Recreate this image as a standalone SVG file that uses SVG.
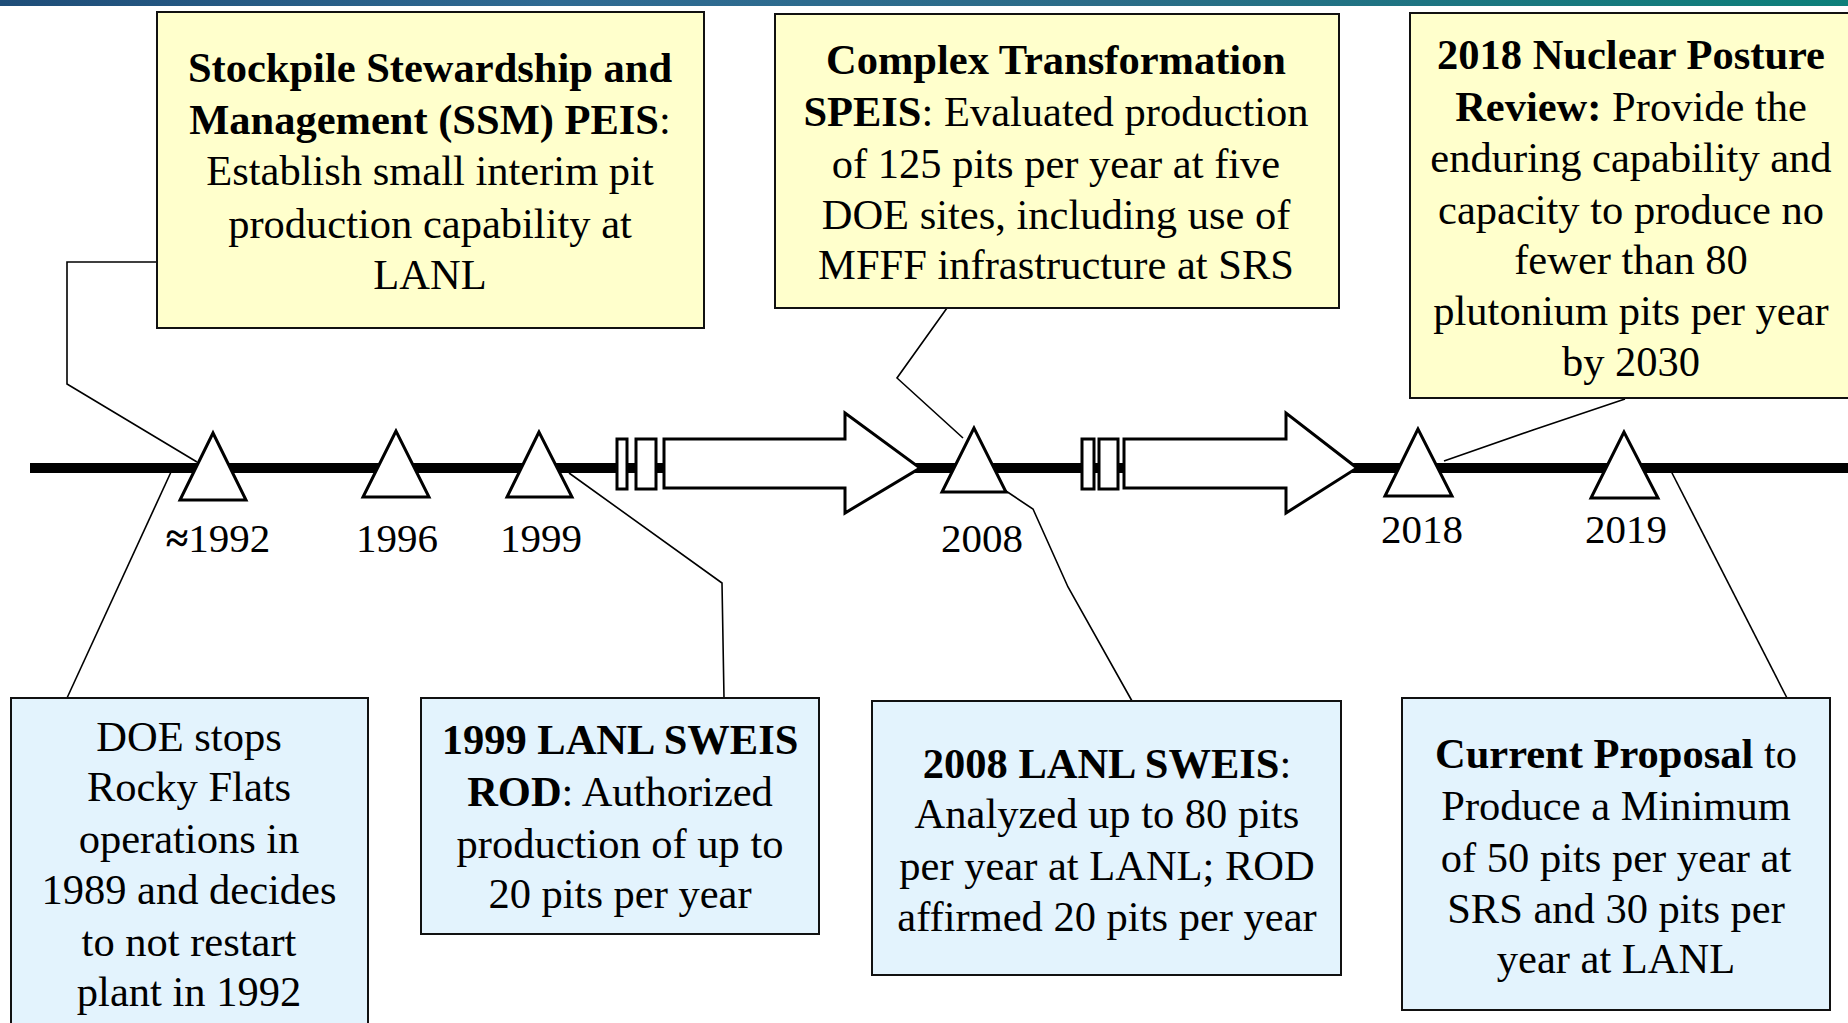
<svg xmlns="http://www.w3.org/2000/svg" width="1848" height="1023" viewBox="0 0 1848 1023">
<defs>
<linearGradient id="band" x1="0" y1="0" x2="1" y2="0">
<stop offset="0" stop-color="#1E4D78"/>
<stop offset="0.3" stop-color="#2F6A93"/>
<stop offset="0.6" stop-color="#2B6C88"/>
<stop offset="1" stop-color="#0C7F7A"/>
</linearGradient>
</defs>
<style>
text{font-family:"Liberation Serif","Times New Roman",serif;fill:#000;text-anchor:middle}
.t{font-size:42.5px}
.y{font-size:41px}
.b{font-weight:bold}
.yel{fill:#FFFFCC;stroke:#111;stroke-width:2}
.blu{fill:#E3F3FD;stroke:#111;stroke-width:2}
.sh{fill:#9a9a9a}
.con{fill:none;stroke:#000;stroke-width:1.6}
.tri{fill:#fff;stroke:#000;stroke-width:3;stroke-linejoin:miter}
.brk{fill:#fff;stroke:#000;stroke-width:3}
</style>
<rect x="0" y="0" width="1848" height="6" fill="url(#band)"/>

<g id="timeline">
<rect x="30" y="463" width="1818" height="10" fill="#000"/>
</g>

<g id="connectors">
<polyline class="con" points="157,262 67,262 67,384 197,462"/>
<polyline class="con" points="171,472 67,698"/>
<polyline class="con" points="569,473 722,583 724,698"/>
<polyline class="con" points="947,308 897,378 963,438"/>
<polyline class="con" points="1003,489 1033,509 1068,587 1132,701"/>
<polyline class="con" points="1444,461 1533,430 1625,399"/>
<polyline class="con" points="1671,471 1787,698"/>
</g>

<g id="break1">
<rect class="brk" x="617" y="439" width="10" height="50"/>
<rect class="brk" x="636" y="439" width="20" height="50"/>
<path class="brk" d="M664,439 H845 V413 L920,468 L845,513 V488 H664 Z"/>
</g>
<g id="break2">
<rect class="brk" x="1082" y="439" width="12" height="50"/>
<rect class="brk" x="1099" y="439" width="19" height="50"/>
<path class="brk" d="M1124,439 H1286 V413 L1357,468 L1286,513 V488 H1124 Z"/>
</g>

<g id="m1992"><polygon class="tri" points="213,433 180,500 246,500"/><text class="y" x="218" y="552"><tspan class="b">≈</tspan>1992</text></g>
<g id="m1996"><polygon class="tri" points="396,431 363,497 429,497"/><text class="y" x="397" y="552">1996</text></g>
<g id="m1999"><polygon class="tri" points="539,432 507,497 572,497"/><text class="y" x="541" y="552">1999</text></g>
<g id="m2008"><polygon class="tri" points="974,428 942,492 1006,492"/><text class="y" x="982" y="552">2008</text></g>
<g id="m2018"><polygon class="tri" points="1418,429 1385,496 1452,496"/><text class="y" x="1422" y="543">2018</text></g>
<g id="m2019"><polygon class="tri" points="1624,432 1591,498 1658,498"/><text class="y" x="1626" y="543">2019</text></g>

<g id="ssm">
<rect class="yel" x="157" y="12" width="547" height="316"/>
<text class="t" x="430" y="82"><tspan class="b">Stockpile Stewardship and</tspan></text>
<text class="t" x="430" y="134"><tspan class="b">Management (SSM) PEIS</tspan>:</text>
<text class="t" x="430" y="185">Establish small interim pit</text>
<text class="t" x="430" y="238">production capability at</text>
<text class="t" x="430" y="289">LANL</text>
</g>

<g id="speis">
<rect class="yel" x="775" y="14" width="564" height="294"/>
<text class="t" x="1056" y="74"><tspan class="b">Complex Transformation</tspan></text>
<text class="t" x="1056" y="126"><tspan class="b">SPEIS</tspan>: Evaluated production</text>
<text class="t" x="1056" y="178">of 125 pits per year at five</text>
<text class="t" x="1056" y="229">DOE sites, including use of</text>
<text class="t" x="1056" y="279">MFFF infrastructure at SRS</text>
</g>

<g id="npr">
<rect class="yel" x="1410" y="13" width="445" height="385"/>
<text class="t" x="1631" y="69"><tspan class="b">2018 Nuclear Posture</tspan></text>
<text class="t" x="1631" y="121"><tspan class="b">Review:</tspan> Provide the</text>
<text class="t" x="1631" y="172">enduring capability and</text>
<text class="t" x="1631" y="224">capacity to produce no</text>
<text class="t" x="1631" y="274">fewer than 80</text>
<text class="t" x="1631" y="325">plutonium pits per year</text>
<text class="t" x="1631" y="376">by 2030</text>
</g>

<g id="doe">
<rect class="blu" x="11" y="698" width="357" height="340"/>
<text class="t" x="189" y="751">DOE stops</text>
<text class="t" x="189" y="801">Rocky Flats</text>
<text class="t" x="189" y="853">operations in</text>
<text class="t" x="189" y="904">1989 and decides</text>
<text class="t" x="189" y="956">to not restart</text>
<text class="t" x="189" y="1006">plant in 1992</text>
</g>

<g id="rod1999">
<rect class="blu" x="421" y="698" width="398" height="236"/>
<text class="t" x="620" y="754"><tspan class="b">1999 LANL SWEIS</tspan></text>
<text class="t" x="620" y="806"><tspan class="b">ROD</tspan>: Authorized</text>
<text class="t" x="620" y="858">production of up to</text>
<text class="t" x="620" y="908">20 pits per year</text>
</g>

<g id="sweis2008">
<rect class="blu" x="872" y="701" width="469" height="274"/>
<text class="t" x="1107" y="778"><tspan class="b">2008 LANL SWEIS</tspan>:</text>
<text class="t" x="1107" y="828">Analyzed up to 80 pits</text>
<text class="t" x="1107" y="880">per year at LANL; ROD</text>
<text class="t" x="1107" y="931">affirmed 20 pits per year</text>
</g>

<g id="proposal">
<rect class="blu" x="1402" y="698" width="428" height="312"/>
<text class="t" x="1616" y="768"><tspan class="b">Current Proposal</tspan> to</text>
<text class="t" x="1616" y="820">Produce a Minimum</text>
<text class="t" x="1616" y="872">of 50 pits per year at</text>
<text class="t" x="1616" y="923">SRS and 30 pits per</text>
<text class="t" x="1616" y="973">year at LANL</text>
</g>
</svg>
